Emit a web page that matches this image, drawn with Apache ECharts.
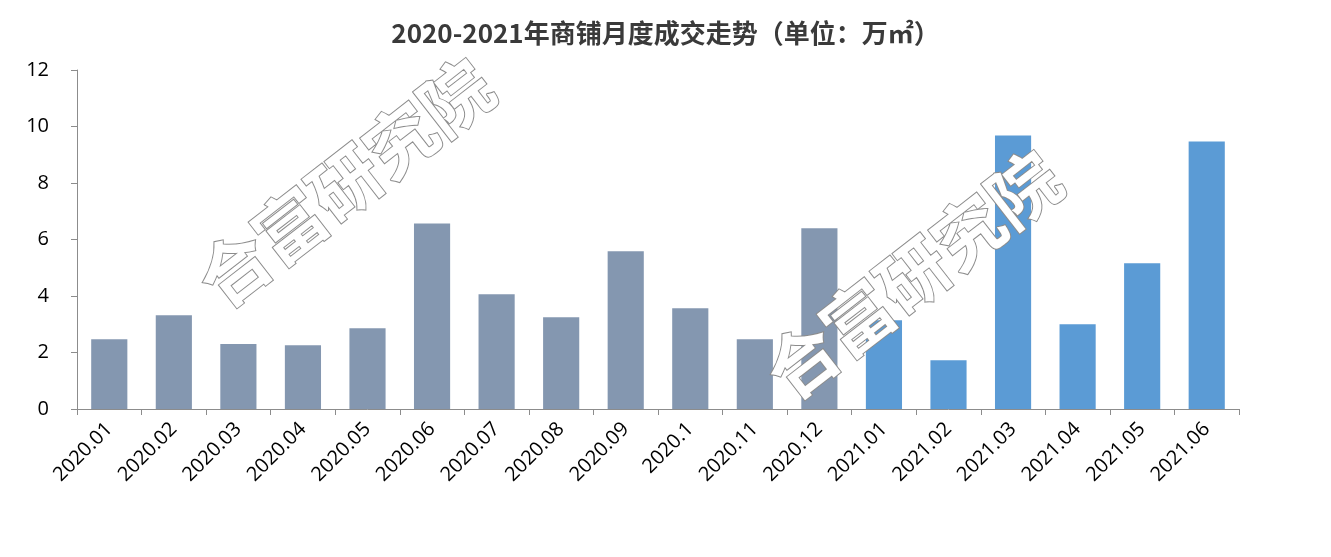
<!DOCTYPE html>
<html><head><meta charset="utf-8">
<script src="https://cdn.jsdelivr.net/npm/echarts@6/dist/echarts.min.js"></script>
<style>html,body{margin:0;padding:0;background:#fff}#c{width:1331px;height:557px}</style>
</head><body><div id="c"></div>
<script>
const categories = ['2020.01','2020.02','2020.03','2020.04','2020.05','2020.06','2020.07','2020.08','2020.09','2020.1','2020.11','2020.12','2021.01','2021.02','2021.03','2021.04','2021.05','2021.06'];
const values = [2.47, 3.32, 2.30, 2.26, 2.86, 6.57, 4.06, 3.25, 5.58, 3.57, 2.47, 6.40, 3.14, 1.73, 9.68, 3.00, 5.16, 9.47];
const yTicks = [0, 2, 4, 6, 8, 10, 12];
const title = '2020-2021年商铺月度成交走势（单位：万㎡）';
const watermark = '合富研究院';
const color2020 = '#8497B0', color2021 = '#5B9BD5';

const chart = echarts.init(document.getElementById('c'), null, {renderer: 'canvas'});
const wmStyle = {text: watermark, fill: '#fff', stroke: '#8c8c8c', lineWidth: 2,
  font: 'bold 70px "Noto Sans CJK SC"', align: 'center', verticalAlign: 'middle'};
chart.setOption({
  animation: false,
  title: {text: title, left: 'center', top: 15,
    textStyle: {fontFamily: '"Noto Sans CJK SC"', fontWeight: 'bold', fontSize: 26, color: '#3a3a3a'}},
  grid: {left: 77, right: 92, top: 70, bottom: 148, containLabel: false},
  xAxis: {type: 'category', data: categories,
    axisLine: {lineStyle: {color: '#8c8c8c', width: 1}},
    axisTick: {show: true, alignWithLabel: false, length: 6, lineStyle: {color: '#8c8c8c'}},
    axisLabel: {rotate: 45, interval: 0, fontSize: 20, color: '#000', fontFamily: '"Open Sans"', margin: 17}},
  yAxis: {type: 'value', min: yTicks[0], max: yTicks[yTicks.length-1], interval: 2,
    axisLine: {show: true, lineStyle: {color: '#8c8c8c'}},
    axisTick: {show: true, inside: false, length: 6, lineStyle: {color: '#8c8c8c'}},
    splitLine: {show: false},
    axisLabel: {fontSize: 20, color: '#000', fontFamily: '"Open Sans"', margin: 28}},
  series: [{type: 'bar', barWidth: '56%',
    data: values.map((v, i) => ({value: v, itemStyle: {color: categories[i].startsWith('2021') ? color2021 : color2020}}))}],
  graphic: [
    {type: 'text', x: 345, y: 183, rotation: 0.66, z: 100, style: wmStyle},
    {type: 'text', x: 913, y: 275, rotation: 0.66, z: 100, style: wmStyle}
  ]
});
</script></body></html>
